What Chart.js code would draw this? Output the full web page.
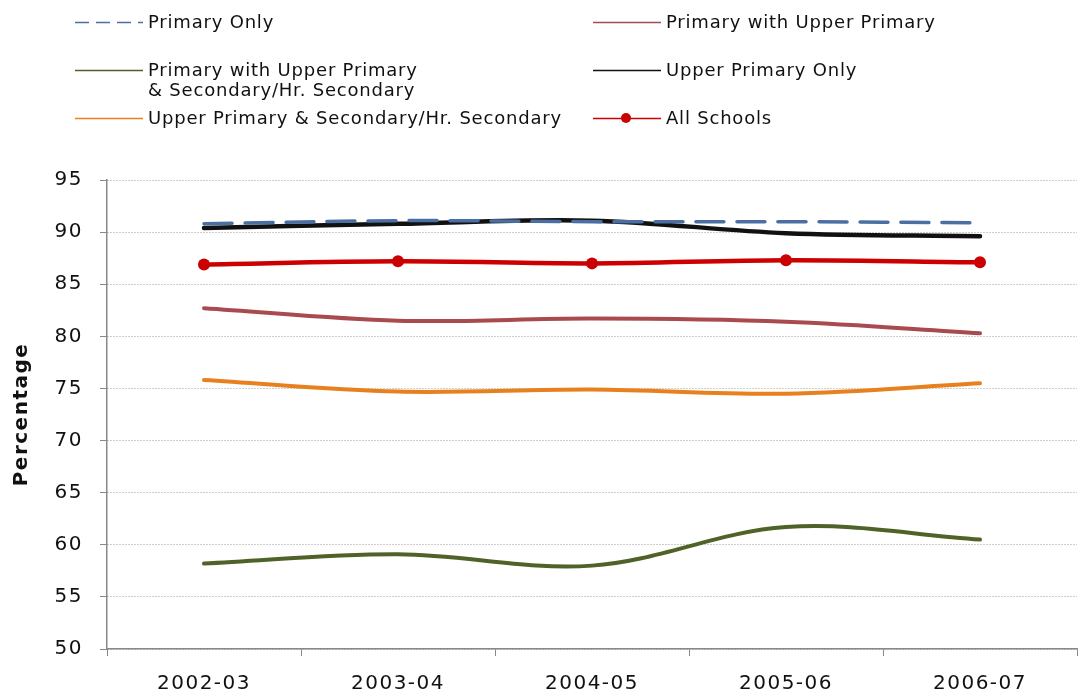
<!DOCTYPE html>
<html>
<head>
<meta charset="utf-8">
<title>Percentage by school category</title>
<script src="https://cdn.jsdelivr.net/npm/chart.js@4.4.1/dist/chart.umd.min.js"></script>
<style>
  html, body { margin: 0; padding: 0; background: #fff; }
  #wrap { position: relative; width: 1086px; height: 695px; overflow: hidden; }
  #chartTrend { position: absolute; left: 0; top: 0; }
  .legend-item {
    position: absolute;
    display: flex;
    align-items: flex-start;
    font: 18px 'DejaVu Sans', sans-serif;
    letter-spacing: 0.8px;
    line-height: 20px;
    color: #111;
    white-space: nowrap;
  }
  .legend-item svg { flex: none; margin-right: 5px; }
</style>
</head>
<body>
<div id="wrap">
  <canvas id="chartTrend" width="1086" height="695"></canvas>
  <div id="legend"></div>
</div>
<script>
// trend.js - percentage by school category, 2002-03 to 2006-07
(function() {
  'use strict';

  // DADOS
  const years = ['2002-03', '2003-04', '2004-05', '2005-06', '2006-07'];
  const primaryOnly = [90.8, 91.1, 91.0, 91.0, 90.9];
  const primaryUpper = [82.7, 81.5, 81.7, 81.4, 80.3];
  const primaryUpperSec = [58.2, 59.1, 58.0, 61.7, 60.5];
  const upperOnly = [90.4, 90.8, 91.1, 89.9, 89.6];
  const upperSec = [75.8, 74.7, 74.9, 74.5, 75.5];
  const allSchools = [86.9, 87.2, 87.0, 87.3, 87.1];
  const yMin = 50;
  const yMax = 95;
  const yStep = 5;

  const FONT = "'DejaVu Sans', sans-serif";

  // series definitions (legend reads from the same list)
  const series = [
    { label: 'Primary Only', data: primaryOnly, color: '#4c6fa3', width: 3.5, dash: [28, 13], legendDash: '14 7', col: 0, row: 0 },
    { label: 'Primary with Upper Primary', data: primaryUpper, color: '#a94a4f', width: 4, col: 1, row: 0 },
    { label: ['Primary with Upper Primary', '& Secondary/Hr. Secondary'], data: primaryUpperSec, color: '#4f6228', width: 4, col: 0, row: 1 },
    { label: 'Upper Primary Only', data: upperOnly, color: '#111111', width: 4.5, col: 1, row: 1 },
    { label: 'Upper Primary & Secondary/Hr. Secondary', data: upperSec, color: '#e9801f', width: 4, col: 0, row: 2 },
    { label: 'All Schools', data: allSchools, color: '#cc0000', width: 4.5, marker: true, col: 1, row: 2 }
  ];

  // LEGENDA (HTML, two columns)
  function buildLegend() {
    const box = document.getElementById('legend');
    const colX = [75, 593];
    const rowY = [12, 60, 108];
    series.forEach(s => {
      const item = document.createElement('div');
      item.className = 'legend-item';
      item.style.left = colX[s.col] + 'px';
      item.style.top = rowY[s.row] + 'px';
      const dash = s.legendDash ? ` stroke-dasharray="${s.legendDash}"` : '';
      const dot = s.marker ? `<circle cx="33" cy="10" r="5" fill="${s.color}"/>` : '';
      const text = Array.isArray(s.label) ? s.label.join('<br>') : s.label;
      item.innerHTML = `
        <svg width="68" height="20"><line x1="0" y1="10.5" x2="68" y2="10.5" stroke="${s.color}" stroke-width="1.5"${dash}/>${dot}</svg>
        <span>${text}</span>`;
      box.appendChild(item);
    });
  }

  // wider letter spacing for axis text
  const spacingPlugin = {
    id: 'spacing',
    beforeInit: chart => { chart.ctx.letterSpacing = '1.5px'; },
    beforeDraw: chart => { chart.ctx.letterSpacing = '1.5px'; }
  };

  // GRÁFICO
  function initChart() {
    const ctx = document.getElementById('chartTrend');
    if (!ctx) return;

    const datasets = series.map((s, i) => ({
      label: Array.isArray(s.label) ? s.label.join(' ') : s.label,
      data: s.data,
      borderColor: s.color,
      backgroundColor: s.color,
      borderWidth: s.width,
      borderDash: s.dash || [],
      borderCapStyle: 'round',
      tension: 0.35,
      fill: false,
      pointRadius: s.marker ? 6 : 0,
      pointHoverRadius: s.marker ? 6 : 0,
      pointBorderWidth: 0,
      pointBackgroundColor: s.color,
      order: s.marker ? 0 : (s.dash ? 1 : 2 + i)
    }));

    new Chart(ctx, {
      type: 'line',
      data: { labels: years, datasets: datasets },
      plugins: [spacingPlugin],
      options: {
        responsive: false,
        animation: false,
        layout: { padding: { top: 180, right: 9, left: 0, bottom: 0 } },
        plugins: {
          legend: { display: false },
          tooltip: { enabled: false }
        },
        scales: {
          x: {
            offset: true,
            afterFit: scale => { scale.height = 46; },
            grid: {
              display: true,
              offset: true,
              drawOnChartArea: false,
              tickLength: 7,
              tickColor: '#888',
              tickWidth: 1
            },
            border: { display: true, color: '#888', width: 1.5 },
            ticks: {
              padding: 16,
              color: '#111',
              font: { family: FONT, size: 20 },
              maxRotation: 0
            }
          },
          y: {
            min: yMin,
            max: yMax,
            afterFit: scale => { scale.width = 107; },
            grid: {
              color: '#9a9a9a',
              lineWidth: 1,
              tickLength: 7,
              tickColor: '#888',
              tickBorderDash: []
            },
            border: { display: true, color: '#888', width: 1.5, dash: [1, 2] },
            ticks: {
              stepSize: yStep,
              padding: 17,
              color: '#111',
              font: { family: FONT, size: 20 }
            },
            title: {
              display: true,
              text: 'Percentage',
              color: '#111',
              padding: { top: 10, bottom: 0 },
              font: { family: FONT, size: 20, weight: 'bold' }
            }
          }
        }
      }
    });
  }

  buildLegend();
  initChart();
})();
</script>
</body>
</html>
